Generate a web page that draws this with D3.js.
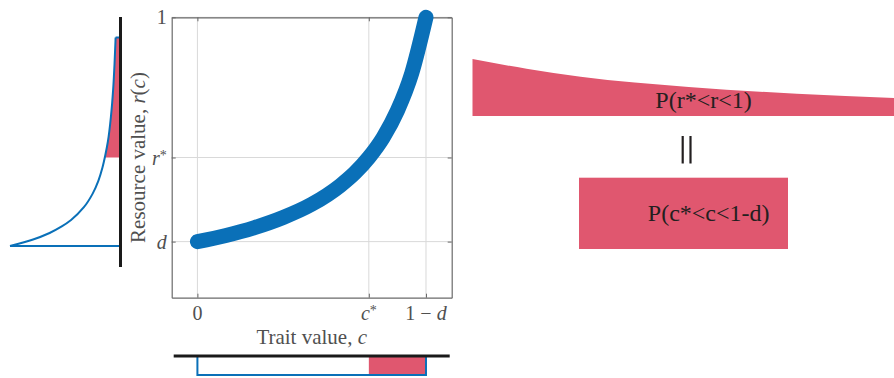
<!DOCTYPE html>
<html>
<head>
<meta charset="utf-8">
<script src="https://cdn.jsdelivr.net/npm/d3@7"></script>
<style>
  html, body { margin: 0; padding: 0; background: #fff; }
  svg { display: block; }
</style>
</head>
<body>
<svg id="fig" width="894" height="378"></svg>
<script>
// Model constants
const d = 0.2;
const cStar = 0.6;
const rStar = 0.5;

// Resource value r(c) along the trait axis
const traitValues    = [0, 0.1, 0.2, 0.3, 0.4, 0.5, 0.55, 0.6, 0.65, 0.7, 0.75, 0.8];
const resourceValues = [0.2, 0.222, 0.25, 0.286, 0.333, 0.4, 0.444, 0.5, 0.571, 0.667, 0.8, 1.0];

// Density of resource values p(r) on [d, 1]
const densityR      = [0.2, 0.225, 0.25, 0.275, 0.3, 0.35, 0.4, 0.45, 0.5, 0.55, 0.6, 0.7, 0.8, 0.9, 1.0];
const densityRValue = [6.25, 4.94, 4.0, 3.31, 2.78, 2.04, 1.56, 1.23, 1.0, 0.83, 0.69, 0.51, 0.39, 0.31, 0.25];

// Uniform density of traits on [0, 1-d]
const traitDensity = 1.25;

// Tick labels
const yTicks = [
  { v: d,     parts: [{ t: "d", it: true }] },
  { v: rStar, parts: [{ t: "r", it: true }, { t: "*", sup: true }] },
  { v: 1,     parts: [{ t: "1" }] }
];
const xTicks = [
  { v: 0,     parts: [{ t: "0" }] },
  { v: cStar, parts: [{ t: "c", it: true }, { t: "*", sup: true }] },
  { v: 1 - d, parts: [{ t: "1 \u2212 " }, { t: "d", it: true }] }
];

const labelUpper = "P(r*<r<1)";
const labelLower = "P(c*<c<1-d)";

const red = "#e0576f";
const blue = "#0a70b8";
const serif = "'Liberation Serif', 'Times New Roman', serif";
const axisGray = "#6a6a6a";
const textGray = "#505050";

const svg = d3.select("#fig");

// ---------- main panel ----------
const x = d3.scaleLinear().domain([-0.09, 0.89]).range([171.7, 451.7]);
const y = d3.scaleLinear().domain([0, 1]).range([297.7, 17.3]);

const main = svg.append("g");

// grid
main.selectAll("line.gx").data(xTicks).join("line")
  .attr("x1", t => x(t.v)).attr("x2", t => x(t.v))
  .attr("y1", y.range()[0]).attr("y2", y.range()[1])
  .attr("stroke", "#d9d9d9").attr("stroke-width", 1);
main.selectAll("line.gy").data(yTicks).join("line")
  .attr("y1", t => y(t.v)).attr("y2", t => y(t.v))
  .attr("x1", x.range()[0]).attr("x2", x.range()[1])
  .attr("stroke", "#d9d9d9").attr("stroke-width", 1);

// axes with inward ticks
function styleAxis(g) {
  g.selectAll(".domain").attr("stroke", axisGray).attr("stroke-width", 1.2);
  g.selectAll(".tick line").attr("stroke", axisGray);
  g.selectAll(".tick text").remove();
}
const tv = xTicks.map(t => t.v), yv = yTicks.map(t => t.v);
main.append("g").attr("transform", `translate(0,${y.range()[0]})`)
  .call(d3.axisBottom(x).tickValues(tv).tickSizeInner(-4).tickSizeOuter(0)).call(styleAxis);
main.append("g").attr("transform", `translate(0,${y.range()[1]})`)
  .call(d3.axisTop(x).tickValues(tv).tickSizeInner(-4).tickSizeOuter(0)).call(styleAxis);
main.append("g").attr("transform", `translate(${x.range()[0]},0)`)
  .call(d3.axisLeft(y).tickValues(yv).tickSizeInner(-4).tickSizeOuter(0)).call(styleAxis);
main.append("g").attr("transform", `translate(${x.range()[1]},0)`)
  .call(d3.axisRight(y).tickValues(yv).tickSizeInner(-4).tickSizeOuter(0)).call(styleAxis);

function addParts(sel, parts) {
  parts.forEach(p => {
    const ts = sel.append("tspan").text(p.t);
    if (p.it) ts.attr("font-style", "italic");
    if (p.sup) ts.attr("baseline-shift", "35%").attr("font-size", 14);
  });
}

// tick labels
yTicks.forEach(t => {
  const tx = main.append("text")
    .attr("x", x.range()[0] - 5).attr("y", y(t.v))
    .attr("dy", "0.35em").attr("text-anchor", "end")
    .attr("font-family", serif).attr("font-size", 20).attr("fill", textGray);
  addParts(tx, t.parts);
});
xTicks.forEach(t => {
  const tx = main.append("text")
    .attr("x", x(t.v)).attr("y", y.range()[0] + 22)
    .attr("text-anchor", "middle")
    .attr("font-family", serif).attr("font-size", 20).attr("fill", textGray);
  addParts(tx, t.parts);
});

// axis titles
const xt = main.append("text")
  .attr("x", (x.range()[0] + x.range()[1]) / 2).attr("y", 344)
  .attr("text-anchor", "middle")
  .attr("font-family", serif).attr("font-size", 21).attr("fill", textGray);
addParts(xt, [{ t: "Trait value, " }, { t: "c", it: true }]);

const yt = main.append("text")
  .attr("transform", `translate(137.5,${(y.range()[0] + y.range()[1]) / 2}) rotate(-90)`)
  .attr("text-anchor", "middle").attr("dominant-baseline", "central")
  .attr("font-family", serif).attr("font-size", 21).attr("fill", textGray);
addParts(yt, [{ t: "Resource value, " }, { t: "r", it: true }, { t: "(" }, { t: "c", it: true }, { t: ")" }]);

// r(c) curve
const curveData = traitValues.map((c, i) => [c, resourceValues[i]]);
main.append("path").datum(curveData)
  .attr("d", d3.line().x(p => x(p[0])).y(p => y(p[1])).curve(d3.curveMonotoneX))
  .attr("fill", "none").attr("stroke", blue).attr("stroke-width", 15)
  .attr("stroke-linecap", "round").attr("stroke-linejoin", "round");

// ---------- left panel: density of r ----------
const ly = d3.scaleLinear().domain([d, 1]).range([246, 37.5]);
const lx = d3.scaleLinear().domain([0, 6.25]).range([120, 10]);
const dens = densityR.map((r, i) => [r, densityRValue[i]]);

svg.append("clipPath").attr("id", "aboveRStar")
  .append("rect").attr("x", 0).attr("y", 0).attr("width", 894).attr("height", y(rStar));

svg.append("path").datum(dens)
  .attr("d", d3.area().y(p => ly(p[0])).x0(lx(0)).x1(p => lx(p[1])).curve(d3.curveMonotoneY))
  .attr("fill", red).attr("clip-path", "url(#aboveRStar)");

const leftLine = d3.line().x(p => lx(p[1])).y(p => ly(p[0])).curve(d3.curveMonotoneY);
svg.append("path").datum(dens)
  .attr("d", leftLine)
  .attr("fill", "none").attr("stroke", blue).attr("stroke-width", 2);
svg.append("line")
  .attr("x1", lx(densityRValue[0])).attr("x2", lx(0))
  .attr("y1", ly(d)).attr("y2", ly(d))
  .attr("stroke", blue).attr("stroke-width", 2);
svg.append("line")
  .attr("x1", lx(densityRValue[densityRValue.length - 1])).attr("x2", lx(0))
  .attr("y1", ly(1)).attr("y2", ly(1))
  .attr("stroke", blue).attr("stroke-width", 2);
svg.append("line")
  .attr("x1", lx(0) + 0.5).attr("x2", lx(0) + 0.5)
  .attr("y1", 17).attr("y2", 267)
  .attr("stroke", "#1a1a1a").attr("stroke-width", 3);

// ---------- bottom panel: density of c ----------
const by = d3.scaleLinear().domain([0, traitDensity]).range([356, 375]);
svg.append("rect")
  .attr("x", x(cStar)).attr("y", by(0))
  .attr("width", x(1 - d) - x(cStar)).attr("height", by(traitDensity) - by(0))
  .attr("fill", red);
svg.append("path")
  .attr("d", d3.line()([[x(0), by(0)], [x(0), by(traitDensity)], [x(1 - d), by(traitDensity)], [x(1 - d), by(0)]]))
  .attr("fill", "none").attr("stroke", blue).attr("stroke-width", 2);
svg.append("line")
  .attr("x1", x.range()[0] + 2).attr("x2", x.range()[1] - 2)
  .attr("y1", by(0)).attr("y2", by(0))
  .attr("stroke", "#1a1a1a").attr("stroke-width", 3);

// ---------- right: magnified shaded probabilities ----------
const ux = d3.scaleLinear().domain([rStar, 1]).range([472.5, 1013]);
const uy = d3.scaleLinear().domain([0, 1]).range([116, 59]);
const upper = dens.filter(p => p[0] >= rStar);
svg.append("path").datum(upper)
  .attr("d", d3.area().x(p => ux(p[0])).y0(uy(0)).y1(p => uy(p[1])).curve(d3.curveMonotoneX))
  .attr("fill", red);
svg.append("text")
  .attr("x", 703.5).attr("y", 108.3).attr("text-anchor", "middle")
  .attr("font-family", serif).attr("font-size", 24).attr("fill", "#231f20")
  .text(labelUpper);

// equality bars
[682.7, 690.5].forEach(bx => {
  svg.append("line").attr("x1", bx).attr("x2", bx).attr("y1", 136).attr("y2", 163.5)
    .attr("stroke", "#231f20").attr("stroke-width", 2.2);
});

const rx = d3.scaleLinear().domain([cStar, 1 - d]).range([579, 788]);
const ry = d3.scaleLinear().domain([0, traitDensity]).range([249, 177.7]);
svg.append("rect")
  .attr("x", rx(cStar)).attr("y", ry(traitDensity))
  .attr("width", rx(1 - d) - rx(cStar)).attr("height", ry(0) - ry(traitDensity))
  .attr("fill", red);
svg.append("text")
  .attr("x", 708.7).attr("y", 221).attr("text-anchor", "middle")
  .attr("font-family", serif).attr("font-size", 24).attr("fill", "#231f20")
  .text(labelLower);
</script>
</body>
</html>
